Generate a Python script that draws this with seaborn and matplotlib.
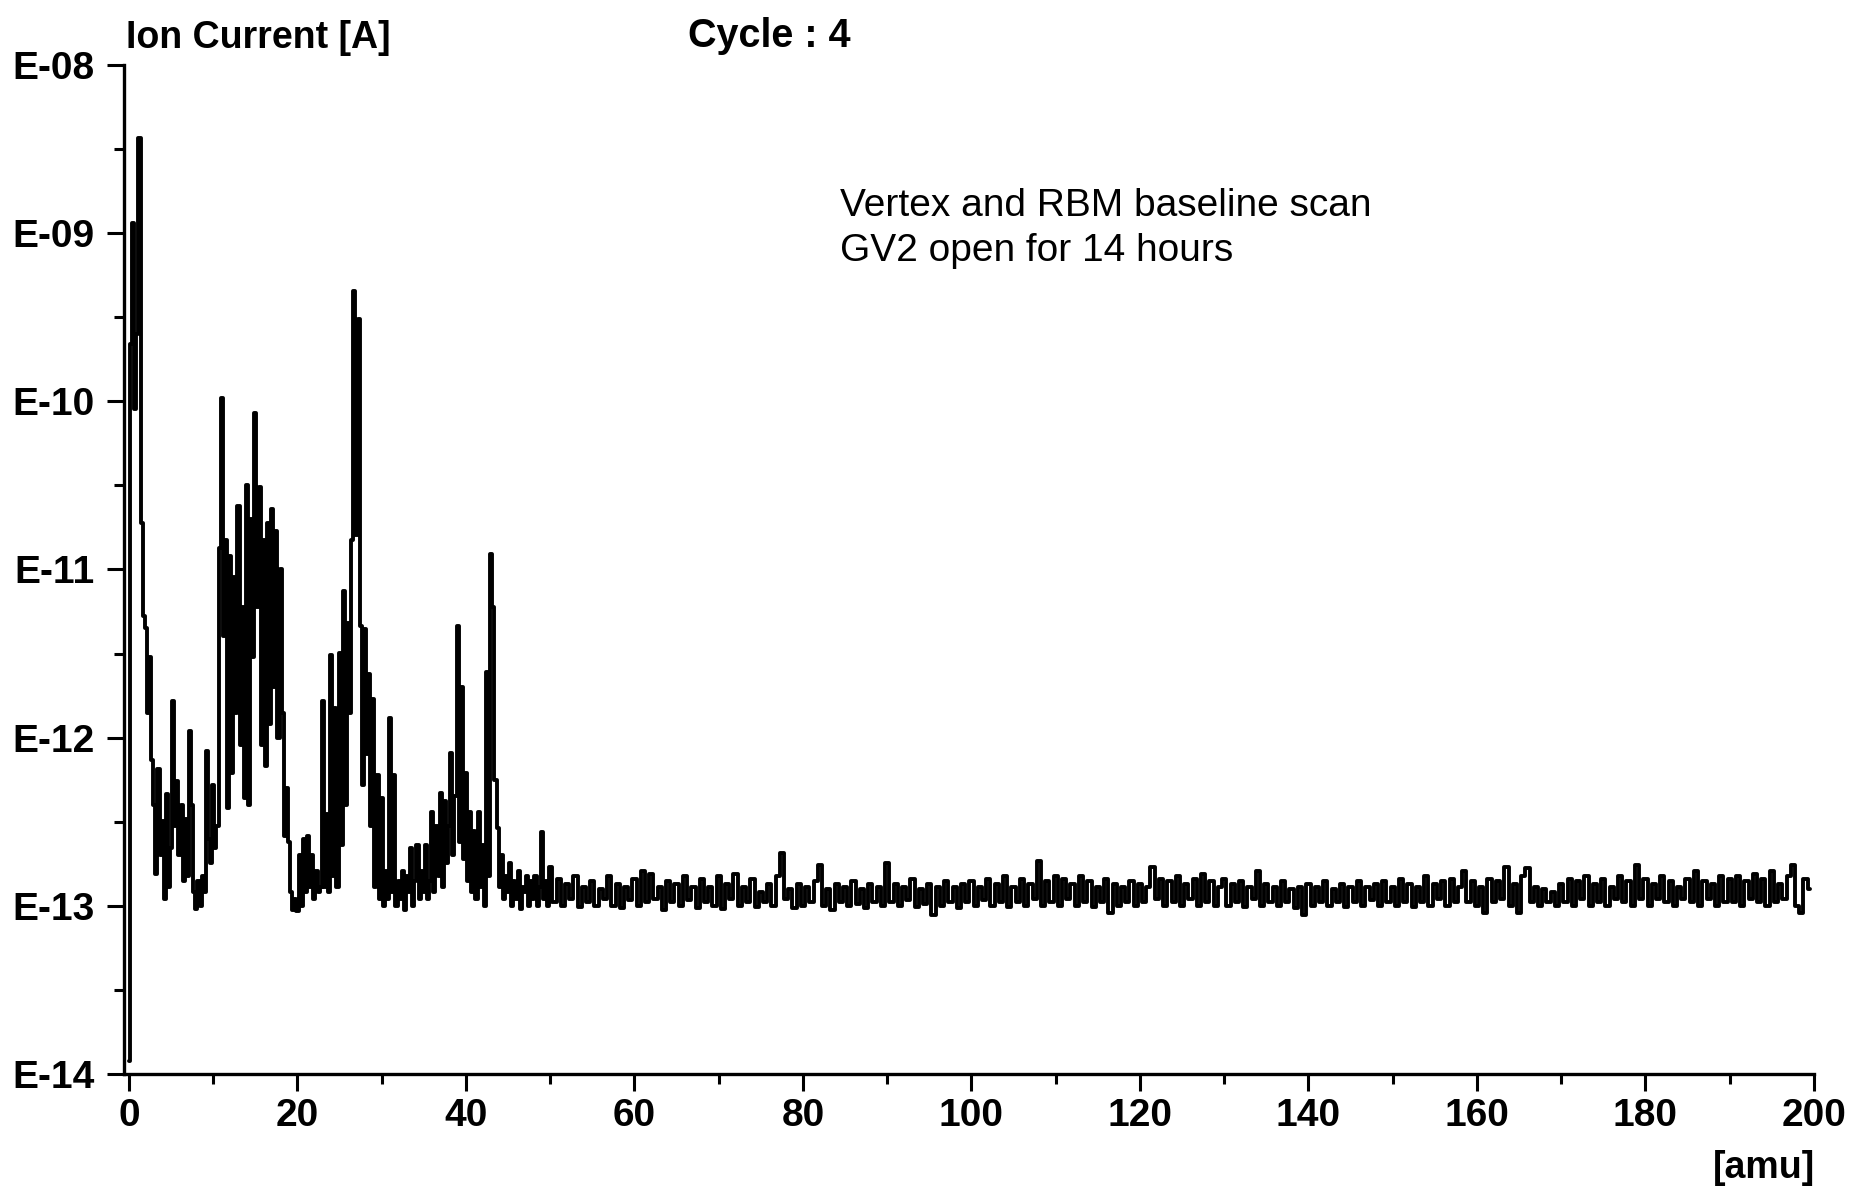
import numpy as np
import pandas as pd
import matplotlib
matplotlib.use("Agg")
import matplotlib.pyplot as plt
from matplotlib.ticker import FixedLocator, NullFormatter
import seaborn as sns

# ---------------- data (ion current in units of 1e-13 A) ----------------
# low-mass part, 0 ... 49.75 amu in 0.25 amu steps
mass_low = np.arange(0, 50, 0.25)
current_low_e13 = [
    0.12, 2200, 11500, 900,      # 0
    2500, 37000, 190, 53,        # 1
    45, 14, 30, 7.4,             # 2
    4.0, 1.55, 6.5, 2.0,         # 3
    3.2, 1.1, 4.6, 1.3,          # 4
    2.2, 16.5, 3.0, 5.5,         # 5
    2.0, 4.0, 1.4, 3.3,          # 6
    1.5, 11, 4.0, 1.2,           # 7
    0.96, 1.4, 1.0, 1.5,         # 8
    1.2, 8.3, 2.5, 1.8,          # 9
    5.2, 2.2, 3.0, 135,          # 10
    1050, 40, 150, 3.8,          # 11
    120, 6.2, 90, 14,            # 12
    240, 9.0, 60, 4.4,           # 13
    320, 4.0, 200, 30,           # 14
    850, 60, 310, 9.1,           # 15
    150, 6.8, 190, 12,           # 16
    230, 20, 170, 10,            # 17
    100, 14, 2.6, 5.0,           # 18
    2.4, 1.2, 0.95, 1.1,         # 19
    0.93, 2.0, 1.0, 2.5,         # 20
    1.2, 2.6, 1.3, 2.0,          # 21
    1.1, 1.6, 1.2, 1.3,          # 22
    16.5, 1.3, 3.5, 1.2,         # 23
    31, 1.5, 15, 1.3,            # 24
    32, 2.3, 74, 4.0,            # 25
    48, 14, 150, 4500,           # 26
    160, 3100, 46, 5.2,          # 27
    44, 8.0, 24, 3.0,            # 28
    17, 1.3, 6.0, 1.1,           # 29
    4.4, 1.0, 1.6, 1.1,          # 30
    13, 1.2, 6.0, 1.0,           # 31
    1.4, 1.1, 1.6, 0.95,         # 32
    1.5, 1.2, 2.2, 1.0,          # 33
    1.4, 2.3, 1.1, 1.6,          # 34
    1.2, 2.3, 1.1, 1.4,          # 35
    3.6, 1.2, 3.0, 1.5,          # 36
    4.7, 1.3, 4.2, 1.8,          # 37
    3.0, 8.1, 2.0, 4.5,          # 38
    46, 2.4, 20, 1.9,            # 39
    6.2, 1.4, 3.6, 1.2,          # 40
    2.8, 1.1, 3.6, 1.3,          # 41
    2.3, 1.0, 24.6, 1.5,         # 42
    123, 60, 5.6, 2.9,           # 43
    1.3, 2.0, 1.1, 1.5,          # 44
    1.2, 1.8, 1.0, 1.4,          # 45
    1.1, 1.6, 0.96, 1.3,         # 46
    1.2, 1.5, 1.0, 1.4,          # 47
    1.1, 1.5, 1.0, 1.3,          # 48
    2.75, 1.1, 1.4, 1.0,         # 49
]

# baseline part, 50 ... 199.5 amu in 0.5 amu steps
mass_high = np.arange(50, 200, 0.5)
current_high_e13 = [
    1.7, 1.05, 1.45, 1.0, 1.35, 1.1, 1.5, 0.98, 1.3, 1.05, 1.4, 1.0, 1.25, 1.1, 1.5, 1.0, 1.35, 0.97, 1.3, 1.08,      # 50
    1.45, 1.0, 1.6, 1.05, 1.55, 1.1, 1.3, 0.95, 1.4, 1.05, 1.35, 1.0, 1.5, 1.08, 1.3, 0.97, 1.45, 1.05, 1.3, 1.0,     # 60
    1.5, 0.96, 1.35, 1.1, 1.55, 1.0, 1.3, 1.05, 1.45, 0.98, 1.2, 1.05, 1.35, 1.0, 1.5, 2.05, 1.1, 1.25, 0.97, 1.35,   # 70
    1.0, 1.3, 1.05, 1.4, 1.75, 1.0, 1.25, 0.95, 1.35, 1.05, 1.3, 1.0, 1.4, 1.02, 1.25, 0.97, 1.35, 1.05, 1.3, 1.0,    # 80
    1.8, 1.05, 1.35, 1.0, 1.3, 1.08, 1.45, 0.98, 1.25, 1.02, 1.35, 0.88, 1.3, 1.0, 1.4, 1.05, 1.3, 0.97, 1.35, 1.05,  # 90
    1.4, 1.0, 1.3, 1.08, 1.45, 1.0, 1.35, 1.05, 1.5, 0.98, 1.3, 1.05, 1.45, 1.0, 1.35, 1.1, 1.85, 1.0, 1.4, 1.05,     # 100
    1.5, 1.0, 1.45, 1.1, 1.35, 1.0, 1.5, 1.05, 1.4, 0.98, 1.3, 1.05, 1.45, 0.9, 1.35, 1.0, 1.3, 1.05, 1.4, 1.0,       # 110
    1.35, 1.05, 1.3, 1.7, 1.1, 1.45, 1.0, 1.4, 1.05, 1.5, 1.0, 1.35, 1.1, 1.45, 1.0, 1.55, 1.05, 1.4, 1.0, 1.3,       # 120
    1.45, 1.0, 1.35, 1.05, 1.4, 0.98, 1.3, 1.1, 1.6, 1.0, 1.35, 1.05, 1.3, 1.0, 1.4, 1.05, 1.25, 0.97, 1.3, 0.88,     # 130
    1.35, 1.0, 1.3, 1.05, 1.4, 1.0, 1.25, 1.05, 1.35, 0.98, 1.3, 1.05, 1.4, 1.0, 1.3, 1.08, 1.35, 1.0, 1.4, 1.05,     # 140
    1.3, 1.0, 1.45, 1.05, 1.35, 0.98, 1.3, 1.05, 1.5, 1.0, 1.35, 1.1, 1.4, 1.0, 1.45, 1.05, 1.3, 1.6, 1.05, 1.4,      # 150
    1.0, 1.3, 0.9, 1.45, 1.05, 1.4, 1.1, 1.7, 1.0, 1.35, 0.9, 1.5, 1.68, 1.05, 1.3, 1.0, 1.25, 1.05, 1.2, 1.0,        # 160
    1.35, 1.05, 1.45, 1.0, 1.4, 1.1, 1.5, 1.0, 1.35, 1.05, 1.45, 1.0, 1.3, 1.1, 1.5, 1.05, 1.4, 1.0, 1.75, 1.1,       # 170
    1.45, 1.0, 1.35, 1.1, 1.5, 1.05, 1.4, 1.0, 1.3, 1.1, 1.45, 1.05, 1.6, 1.0, 1.4, 1.1, 1.35, 1.0, 1.5, 1.05,        # 180
    1.45, 1.05, 1.5, 1.0, 1.4, 1.1, 1.55, 1.05, 1.45, 1.0, 1.6, 1.05, 1.35, 1.1, 1.5, 1.75, 1.0, 0.9, 1.45, 1.25,     # 190
]

y_tick_values = [1e-14, 1e-13, 1e-12, 1e-11, 1e-10, 1e-9, 1e-8]
y_tick_labels = ["E-14", "E-13", "E-12", "E-11", "E-10", "E-09", "E-08"]
x_tick_values = [0, 20, 40, 60, 80, 100, 120, 140, 160, 180, 200]
x_tick_labels = ["0", "20", "40", "60", "80", "100", "120", "140", "160", "180", "200"]

assert len(current_low_e13) == len(mass_low)
assert len(current_high_e13) == len(mass_high)

df = pd.DataFrame({
    "mass": np.concatenate([mass_low, mass_high]),
    "current": np.concatenate([current_low_e13, current_high_e13]) * 1e-13,
})

# ---------------- style ----------------
sns.set_theme(style="white")
plt.rcParams["font.family"] = ["Liberation Sans", "DejaVu Sans"]
plt.rcParams["text.color"] = "black"
plt.rcParams["axes.labelcolor"] = "black"
plt.rcParams["xtick.color"] = "black"
plt.rcParams["ytick.color"] = "black"

fig = plt.figure(figsize=(18.5, 11.93), dpi=100)
fig.patch.set_facecolor("white")
ax = fig.add_axes([0.067, 0.0998, 0.9135, 0.8457])

sns.lineplot(data=df, x="mass", y="current", ax=ax, color="black",
             linewidth=2.8, drawstyle="steps-mid", estimator=None,
             sort=False, legend=False)

ax.set_yscale("log")
ax.set_ylim(1e-14, 1e-8)
ax.set_xlim(-0.6, 200)
ax.set_xlabel("")
ax.set_ylabel("")
ax.grid(False)

for s in ["top", "right"]:
    ax.spines[s].set_visible(False)
for s in ["left", "bottom"]:
    ax.spines[s].set_linewidth(2.4)
    ax.spines[s].set_color("black")

ax.set_yticks(y_tick_values, labels=y_tick_labels, fontsize=28, fontweight="bold")
ax.yaxis.set_minor_locator(FixedLocator([3.16e-14, 3.16e-13, 3.16e-12, 3.16e-11, 3.16e-10, 3.16e-9]))
ax.yaxis.set_minor_formatter(NullFormatter())
ax.set_xticks(x_tick_values, labels=x_tick_labels, fontsize=28, fontweight="bold")
ax.xaxis.set_minor_locator(FixedLocator(list(range(10, 200, 20))))

ax.tick_params(axis="both", which="both", bottom=True, left=True, top=False, right=False)
ax.tick_params(axis="both", which="major", direction="out", length=12, width=2.2,
               color="black", labelcolor="black")
ax.tick_params(axis="both", which="minor", direction="out", length=7, width=2.2,
               color="black")
ax.tick_params(axis="y", which="major", pad=9)
ax.tick_params(axis="x", which="major", pad=5)

# ---------------- texts ----------------
fig.text(0.068, 0.968, "Ion Current [A]", fontsize=27, fontweight="bold",
         ha="left", va="center", color="black")
fig.text(0.372, 0.970, "Cycle : 4", fontsize=28.5, fontweight="bold",
         ha="left", va="center", color="black")
fig.text(0.454, 0.827, "Vertex and RBM baseline scan", fontsize=28,
         ha="left", va="center", color="black")
fig.text(0.454, 0.790, "GV2 open for 14 hours", fontsize=28,
         ha="left", va="center", color="black")
fig.text(0.981, 0.021, "[amu]", fontsize=27, fontweight="bold",
         ha="right", va="center", color="black")

fig.savefig("out.png", dpi=100, facecolor="white")
